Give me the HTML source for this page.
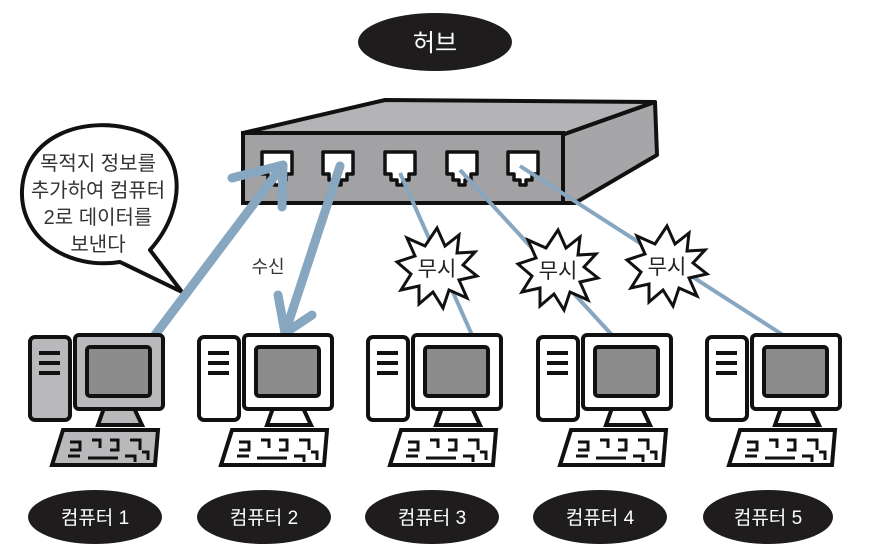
<!DOCTYPE html>
<html><head><meta charset="utf-8"><style>
html,body{margin:0;padding:0;background:#fff;}
svg{display:block;}
text{font-family:"Liberation Sans","Noto Sans CJK KR",sans-serif;}
</style></head><body>
<svg width="869" height="551" viewBox="0 0 869 551" xmlns="http://www.w3.org/2000/svg">
<defs>
<g id="pc">
  <polygon points="68,425 74,408 104,408 112,425" fill="inherit" stroke="#111" stroke-width="4"/>
  <rect x="45" y="335" width="88" height="74" rx="4" fill="inherit" stroke="#111" stroke-width="4"/>
  <rect x="57" y="347" width="63" height="49" rx="3" fill="#8c8c8c" stroke="#111" stroke-width="4"/>
  <polygon points="33,430 128,430 125,465 22,465" fill="inherit" stroke="#111" stroke-width="4"/>
  <path d="M40 442h10v8h-10 M62 440h8v8 M80 440h8v10h-8 M100 440h10v10 M38 456h12 M58 458h30 M95 456h10v6 M112 452h6v8" fill="none" stroke="#111" stroke-width="3"/>
</g>
<polygon id="st" points="0,-40 8,-22 22,-33 20,-15 38,-16 26,-3 40,8 22,12 30,30 12,22 6,40 -4,24 -18,36 -18,18 -36,22 -26,6 -40,-6 -22,-12 -30,-30 -12,-22" fill="#fff" stroke="#111" stroke-width="3"/>
</defs>

<ellipse cx="435" cy="42" rx="77" ry="29" fill="#1e1c1c"/>
<text x="435" y="51" font-size="24" fill="#fff" text-anchor="middle">허브</text>

<polygon points="243,133 385,100 655,102 562,135" fill="#b4b4b7" stroke="#111" stroke-width="4" stroke-linejoin="round"/>
<polygon points="562,135 655,102 657,155 575,203 562,203" fill="#a6a6a9" stroke="#111" stroke-width="4" stroke-linejoin="round"/>
<rect x="243" y="133" width="320" height="70" fill="#a2a2a5" stroke="#111" stroke-width="4"/>
<g fill="#fff" stroke="#111" stroke-width="3.5" stroke-linejoin="round">
  <path d="M262 152h30v22h-6v6h-6v5h-6v-5h-6v-6h-6z"/>
  <path d="M323 152h30v22h-6v6h-6v5h-6v-5h-6v-6h-6z"/>
  <path d="M385 152h30v22h-6v6h-6v5h-6v-5h-6v-6h-6z"/>
  <path d="M447 152h30v22h-6v6h-6v5h-6v-5h-6v-6h-6z"/>
  <path d="M508 152h30v22h-6v6h-6v5h-6v-5h-6v-6h-6z"/>
</g>

<g stroke="#87a6c0" stroke-width="4" fill="none">
  <line x1="400" y1="173" x2="472" y2="335"/>
  <line x1="460" y1="170" x2="612" y2="335"/>
  <line x1="520" y1="166" x2="783" y2="335"/>
</g>

<use href="#st" transform="translate(437,268)"/>
<use href="#st" transform="translate(558,270)"/>
<use href="#st" transform="translate(667,266)"/>
<g font-size="21" fill="#222" text-anchor="middle">
  <text x="437" y="276">무시</text>
  <text x="558" y="278">무시</text>
  <text x="667" y="274">무시</text>
</g>

<path d="M150 250 C 190 205 185 145 135 130 C 85 115 25 135 22 190 C 20 240 70 270 120 262 L 182 292 Z" fill="#fff" stroke="#111" stroke-width="4" stroke-linejoin="round"/>
<g font-size="20" fill="#333" text-anchor="middle">
  <text x="98" y="170">목적지 정보를</text>
  <text x="98" y="197">추가하여 컴퓨터</text>
  <text x="98" y="224">2로 데이터를</text>
  <text x="98" y="251">보낸다</text>
</g>
<text x="268" y="273" font-size="18" fill="#333" text-anchor="middle">수신</text>

<g stroke="#87a6c0" stroke-width="9" stroke-linecap="round" fill="none" stroke-linejoin="round">
  <line x1="155" y1="335" x2="283" y2="165"/>
  <polyline points="232,178 283,165 282,207"/>
  <line x1="340" y1="166" x2="285" y2="333"/>
  <polyline points="278,295 285,333 312,315"/>
</g>

<g fill="#b9b9bb"><use href="#pc" transform="translate(30,0)"/></g>
<g fill="#fff">
  <use href="#pc" transform="translate(199,0)"/>
  <use href="#pc" transform="translate(368,0)"/>
  <use href="#pc" transform="translate(538,0)"/>
  <use href="#pc" transform="translate(707,0)"/>
</g>
<rect x="30" y="337" width="40" height="83" rx="5" fill="#b9b9bb" stroke="#111" stroke-width="4"/>
<g fill="#fff" stroke="#111" stroke-width="4">
  <rect x="199" y="337" width="40" height="83" rx="5"/>
  <rect x="368" y="337" width="40" height="83" rx="5"/>
  <rect x="538" y="337" width="40" height="83" rx="5"/>
  <rect x="707" y="337" width="40" height="83" rx="5"/>
</g>
<g stroke="#111" stroke-width="4">
  <path d="M39 353h21M39 363h21M39 373h21 M208 353h21M208 363h21M208 373h21 M377 353h21M377 363h21M377 373h21 M547 353h21M547 363h21M547 373h21 M716 353h21M716 363h21M716 373h21"/>
</g>

<g fill="#1e1c1c">
  <ellipse cx="95" cy="517" rx="67" ry="27"/>
  <ellipse cx="264" cy="517" rx="67" ry="27"/>
  <ellipse cx="432" cy="517" rx="67" ry="27"/>
  <ellipse cx="600" cy="517" rx="67" ry="27"/>
  <ellipse cx="768" cy="517" rx="65" ry="27"/>
</g>
<g font-size="19" fill="#fff" text-anchor="middle">
  <text x="95" y="524">컴퓨터 1</text>
  <text x="264" y="524">컴퓨터 2</text>
  <text x="432" y="524">컴퓨터 3</text>
  <text x="600" y="524">컴퓨터 4</text>
  <text x="768" y="524">컴퓨터 5</text>
</g>
</svg>
</body></html>
